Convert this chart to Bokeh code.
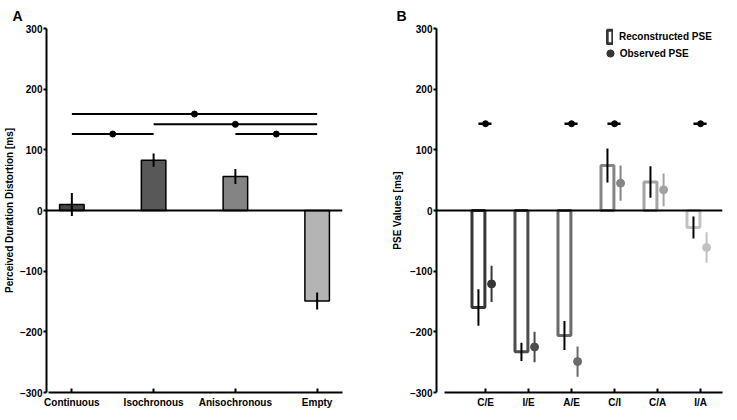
from bokeh.plotting import figure
from bokeh.layouts import row
from bokeh.models import Range1d, FixedTicker, Span, Legend, LegendItem
from bokeh.embed import file_html
from bokeh.resources import INLINE

# ---------------- Data: panel A ----------------
a_categories = ["Continuous", "Isochronous", "Anisochronous", "Empty"]
a_values = [10, 83, 56, -149]
a_errors = [19, 11, 12.5, 14]
a_colors = ["#474747", "#585858", "#848484", "#b4b4b4"]
# significance bars: (from category, to category, height)
a_sig_start = [1, 1, 2, 3]
a_sig_end = [2, 4, 4, 4]
a_sig_y = [126, 159, 142, 126]

# ---------------- Data: panel B ----------------
b_categories = ["C/E", "I/E", "A/E", "C/I", "C/A", "I/A"]
b_recon = [-160, -233, -206, 74, 47, -28]
b_recon_err = [30, 15, 24, 28, 26, 18]
b_obs = [-121, -225, -249, 45, 34, -61]
b_obs_err = [30, 25, 25, 29, 27, 25]
b_colors = ["#363636", "#4d4d4d", "#6b6b6b", "#858585", "#a3a3a3", "#c2c2c2"]
b_sig_idx = [1, 3, 4, 6]
b_sig_y = [143, 143, 143, 143]

y_ticks = [-300, -200, -100, 0, 100, 200, 300]
y_tick_labels = ["\u2212300", "\u2212200", "\u2212100", "0", "100", "200", "300"]

FONT = "Liberation Sans"


def style(p, ylabel, ylabel_standoff, title):
    p.outline_line_color = None
    p.xgrid.visible = False
    p.ygrid.visible = False
    for ax in (p.xaxis, p.yaxis):
        ax.axis_line_width = 2
        ax.axis_line_color = "black"
        ax.major_tick_line_width = 2
        ax.major_tick_line_color = "black"
        ax.minor_tick_line_color = None
        ax.major_label_text_font = FONT
        ax.major_label_text_font_style = "bold"
        ax.major_label_text_font_size = "10px"
        ax.major_label_text_color = "black"
    p.yaxis.ticker = FixedTicker(ticks=y_ticks)
    p.yaxis.major_label_overrides = {t: l for t, l in zip(y_ticks, y_tick_labels)}
    p.yaxis.major_tick_out = 3
    p.yaxis.major_tick_in = 0
    p.yaxis.major_label_standoff = 1
    p.yaxis.axis_label = ylabel
    p.yaxis.axis_label_standoff = ylabel_standoff
    p.yaxis.axis_label_text_font = FONT
    p.yaxis.axis_label_text_font_style = "bold"
    p.yaxis.axis_label_text_font_size = "10px"
    p.yaxis.axis_label_text_color = "black"
    p.xaxis.major_tick_out = 0
    p.xaxis.major_tick_in = 4
    p.xaxis.major_label_standoff = 4
    p.title.text = title
    p.title.align = "left"
    p.title.text_font = FONT
    p.title.text_font_style = "bold"
    p.title.text_font_size = "14px"
    p.title.text_color = "black"


# ---------------- Panel A ----------------
pa = figure(width=368, height=411, x_range=Range1d(0.69, 4.31), y_range=Range1d(-300, 300),
            output_backend="svg", toolbar_location=None,
            min_border_left=40, min_border_right=26, min_border_top=26, min_border_bottom=19)
style(pa, "Perceived Duration Distortion [ms]", 2, "A")
pa.title.offset = -34
ax_x = list(range(1, len(a_categories) + 1))
pa.xaxis.ticker = FixedTicker(ticks=ax_x)
pa.xaxis.major_label_overrides = {i: c for i, c in zip(ax_x, a_categories)}
pa.xaxis.bounds = (0.72, 4.31)

pa.vbar(x=ax_x, top=a_values, bottom=0, width=0.3, fill_color=a_colors,
        line_color="black", line_width=1.5)
pa.add_layout(Span(location=0, dimension="width", line_color="black", line_width=2))
pa.segment(x0=ax_x, x1=ax_x,
           y0=[v - e for v, e in zip(a_values, a_errors)],
           y1=[v + e for v, e in zip(a_values, a_errors)],
           line_color="black", line_width=2)
pa.segment(x0=a_sig_start, x1=a_sig_end, y0=a_sig_y, y1=a_sig_y,
           line_color="black", line_width=2)
pa.scatter(x=[(s + e) / 2 for s, e in zip(a_sig_start, a_sig_end)], y=a_sig_y,
           size=6, color="black")

# ---------------- Panel B ----------------
pb = figure(width=359, height=411, x_range=Range1d(-0.14, 6.51), y_range=Range1d(-300, 300),
            output_backend="svg", toolbar_location=None,
            min_border_left=68, min_border_right=5, min_border_top=26, min_border_bottom=19)
style(pb, "PSE Values [ms]", 4, "B")
pb.title.offset = -40
bx = list(range(1, len(b_categories) + 1))
pb.xaxis.ticker = FixedTicker(ticks=bx)
pb.xaxis.major_label_overrides = {i: c for i, c in zip(bx, b_categories)}
pb.xaxis.bounds = (0.05, 6.51)

bar_off = -0.165
dot_off = 0.14
bar_x = [i + bar_off for i in bx]
dot_x = [i + dot_off for i in bx]

pb.add_layout(Span(location=0, dimension="width", line_color="black", line_width=2))
r_rec = pb.vbar(x=bar_x, top=b_recon, bottom=0, width=0.3, fill_color=None,
                line_color=b_colors, line_width=3)
pb.segment(x0=bar_x, x1=bar_x,
           y0=[v - e for v, e in zip(b_recon, b_recon_err)],
           y1=[v + e for v, e in zip(b_recon, b_recon_err)],
           line_color="black", line_width=2)
pb.segment(x0=dot_x, x1=dot_x,
           y0=[v - e for v, e in zip(b_obs, b_obs_err)],
           y1=[v + e for v, e in zip(b_obs, b_obs_err)],
           line_color=b_colors, line_width=2)
r_obs = pb.scatter(x=dot_x, y=b_obs, size=8, color=b_colors)
pb.segment(x0=[i + bar_off for i in b_sig_idx], x1=[i + dot_off for i in b_sig_idx],
           y0=b_sig_y, y1=b_sig_y, line_color="black", line_width=2.5)
pb.scatter(x=b_sig_idx, y=b_sig_y, size=6, color="black")


def mk_legend(item, gw, gh, standoff, loc):
    return Legend(items=[item], location=loc, glyph_width=gw, glyph_height=gh,
                  label_height=gh, label_standoff=standoff, padding=0, margin=0,
                  spacing=0, border_line_color=None, background_fill_alpha=0,
                  label_text_font=FONT, label_text_font_style="bold",
                  label_text_font_size="10px", label_text_color="black")


pb.add_layout(mk_legend(LegendItem(label="Reconstructed PSE", renderers=[r_rec], index=0),
                        7, 17, 6, (170, 347.5)))
pb.add_layout(mk_legend(LegendItem(label="Observed PSE", renderers=[r_obs], index=0),
                        18, 18, 1, (164.7, 330)))

layout = row(pa, pb)
open("out.html", "w").write(file_html(layout, INLINE))
